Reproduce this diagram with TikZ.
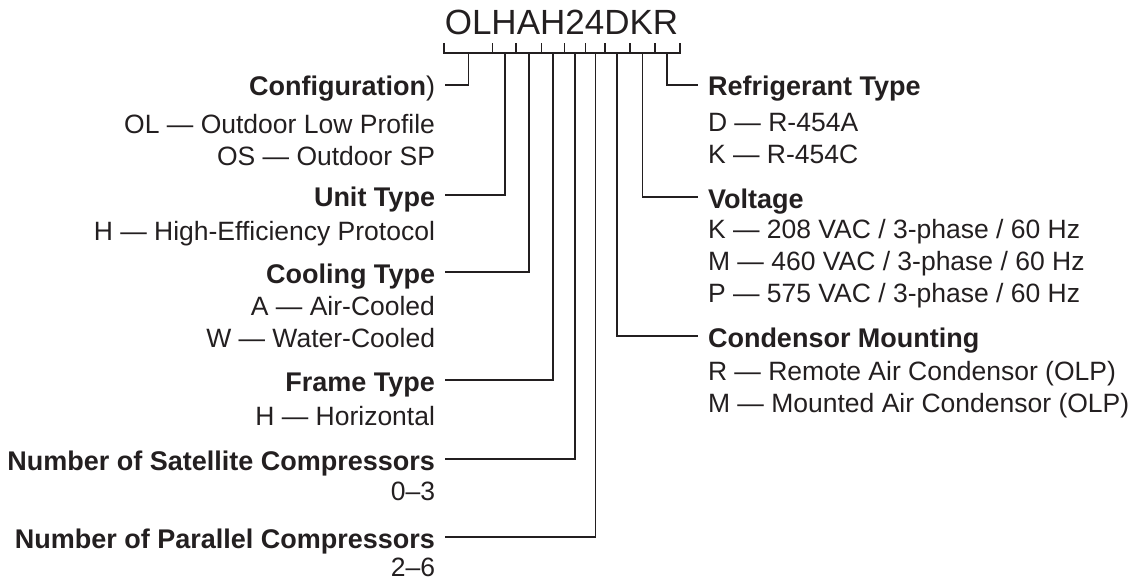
\documentclass[tikz,border=0pt]{standalone}
\usepackage{fontspec}
\setmainfont{Liberation Sans}
\usepackage{tikz}
\usetikzlibrary{positioning}

\definecolor{ink}{HTML}{231F20}

\begin{document}
\begin{tikzpicture}[x=1pt, y=-1pt,
    every node/.style={text=ink},
    lhead/.style={anchor=east, inner sep=0pt, outer xsep=10pt,
      text height=22pt, text depth=0pt,
      font=\fontsize{27}{32}\selectfont\bfseries},
    rhead/.style={lhead, anchor=west},
    lval/.style={inner sep=0pt, outer xsep=10pt, align=right,
      font=\fontsize{26.5}{32}\selectfont},
    rval/.style={lval, align=left},
    wire/.style={draw=ink, line width=1.3pt}]

        \useasboundingbox (0,0) rectangle (1131,580);

        % model code and its bracket
        \node[anchor=base, inner sep=0pt,
        font=\fontsize{35}{40}\selectfont] (code) at (561.5,35) {OLHAH24DKR};

        \draw[wire] (444,43) -- (444,53) -- (680,53) -- (680,43);
        \foreach \x in {492.7,516,541.7,564.3,585.7,605,630,655}
          \draw[wire] (\x,53) -- (\x,43);

        \coordinate (cfg) at (468.3,53);
        \coordinate (utype) at (505,53);
        \coordinate (ctype) at (529,53);
        \coordinate (ftype) at (553,53);
        \coordinate (nsat) at (575,53);
        \coordinate (npar) at (595.5,53);
        \coordinate (cmount) at (617,53);
        \coordinate (volts) at (642.7,53);
        \coordinate (rtype) at (667,53);

        % left column
        \node[lhead] (conf) at (445,85) {Configuration\mdseries)};
        \node[lval, below=17.5pt of conf.south east, anchor=north east]
        (confv) {OL — Outdoor Low Profile\\OS — Outdoor SP};

        \node[lhead] (unit) at (445,195) {Unit Type};
        \node[lval, below=14.8pt of unit.south east, anchor=north east]
        (unitv) {H — High-Efficiency Protocol};

        \node[lhead] (cool) at (445,272) {Cooling Type};
        \node[lval, below=12.8pt of cool.south east, anchor=north east]
        (coolv) {A — Air-Cooled\\W — Water-Cooled};

        \node[lhead] (frame) at (445,380) {Frame Type};
        \node[lval, below=14.8pt of frame.south east, anchor=north east]
        (framev) {H — Horizontal};

        \node[lhead] (sat) at (445,459) {Number of Satellite Compressors};
        \node[lval, below=12pt of sat.south east, anchor=north east]
        (satv) {0–3};

        \node[lhead] (par) at (445,537) {Number of Parallel Compressors};
        \node[lval, below=9.3pt of par.south east, anchor=north east]
        (parv) {2–6};

        % right column
        \node[rhead] (refr) at (698,85) {Refrigerant Type};
        \node[rval, below=16.5pt of refr.south west, anchor=north west]
        (refrv) {D — R-454A\\K — R-454C};

        \node[rhead] (volt) at (698,197) {Voltage};
        \node[rval, below=11.1pt of volt.south west, anchor=north west]
        (voltv) {K — 208 VAC / 3-phase / 60 Hz\\M — 460 VAC / 3-phase / 60 Hz\\P — 575 VAC / 3-phase / 60 Hz};

        \node[rhead] (cond) at (698,336) {Condensor Mounting};
        \node[rval, below=13.8pt of cond.south west, anchor=north west]
        (condv) {R — Remote Air Condensor (OLP)\\M — Mounted Air Condensor (OLP)};

        % leader lines
        \draw[wire] (cfg) |- (conf.east);
        \draw[wire] (utype) |- (unit.east);
        \draw[wire] (ctype) |- (cool.east);
        \draw[wire] (ftype) |- (frame.east);
        \draw[wire] (nsat) |- (sat.east);
        \draw[wire] (npar) |- (par.east);
        \draw[wire] (cmount) |- (cond.west);
        \draw[wire] (volts) |- (volt.west);
        \draw[wire] (rtype) |- (refr.west);
      \end{tikzpicture}
\end{document}
